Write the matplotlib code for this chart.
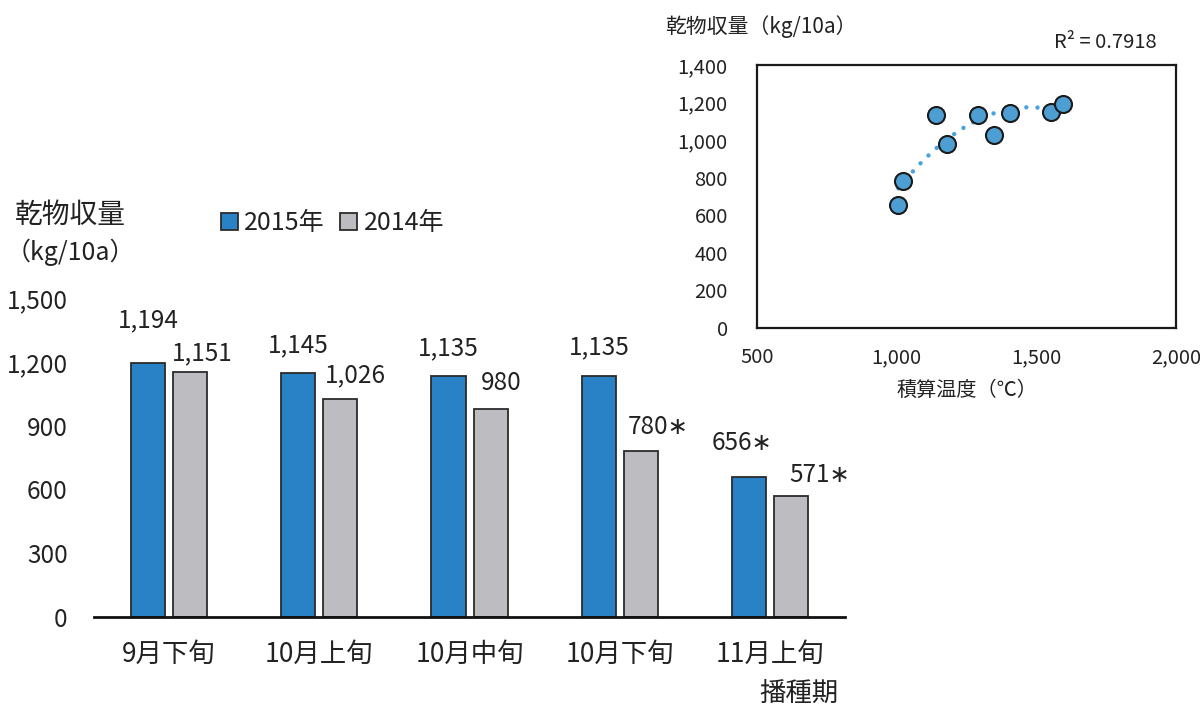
import matplotlib
matplotlib.use("Agg")
import matplotlib.pyplot as plt
from matplotlib.patches import Patch
import numpy as np

plt.rcParams['font.family'] = ['Noto Sans CJK JP', 'DejaVu Sans']

# ---- data ----
categories = ['9月下旬', '10月上旬', '10月中旬', '10月下旬', '11月上旬']
yield_2015 = [1194, 1145, 1135, 1135, 656]
yield_2014 = [1151, 1026, 980, 780, 571]
mark_2015 = ['', '', '', '', '∗']
mark_2014 = ['', '', '', '∗', '∗']
series_names = ['2015年', '2014年']
yticks_bar = [0, 300, 600, 900, 1200, 1500]

temp_sum = [1006, 1022, 1140, 1180, 1291, 1347, 1406, 1553, 1594]
yield_all = [656, 780, 1135, 980, 1135, 1026, 1145, 1151, 1194]
r2_text = 'R² = 0.7918'
xticks_sc = [500, 1000, 1500, 2000]
yticks_sc = [0, 200, 400, 600, 800, 1000, 1200, 1400]

# label offsets in pixels (layout only)
off_2015 = [(0, 43), (0, 28), (0, 27), (0, 28), (-7, 34)]
off_2014 = [(12, 19), (15, 24), (11, 26), (17, 24), (29, 21)]

blue = '#2a82c6'
gray = '#bdbcc1'
edge = '#2b2b2b'
txt = '#222222'

fig = plt.figure(figsize=(12, 7.07), dpi=100)

# ---- bar chart ----
ax = fig.add_axes([0.0783, 0.1273, 0.626, 0.4512])
x = np.arange(len(categories))
w = 0.227
dx = 0.14
b1 = ax.bar(x - dx, yield_2015, w, color=blue, edgecolor=edge, linewidth=1.3)
b2 = ax.bar(x + dx, yield_2014, w, color=gray, edgecolor=edge, linewidth=1.3)
ax.set_xlim(-0.5, len(categories) - 0.5)
ax.set_ylim(0, 1500)
ax.set_yticks(yticks_bar)
ax.set_yticklabels([f'{v:,}' for v in yticks_bar])
ax.set_xticks(x)
ax.set_xticklabels(categories)
for s in ['top', 'right', 'left']:
    ax.spines[s].set_visible(False)
ax.spines['bottom'].set_linewidth(2)
ax.spines['bottom'].set_color('#111111')
ax.tick_params(axis='y', length=0, pad=19, labelsize=17.5, labelcolor=txt)
ax.tick_params(axis='x', length=0, pad=17, labelsize=19, labelcolor=txt)

for i, (v, m, o) in enumerate(zip(yield_2015, mark_2015, off_2015)):
    ax.annotate(f'{v:,}{m}', (x[i] - dx, v), xytext=o, textcoords='offset pixels',
                ha='center', va='center', fontsize=17.5, color=txt)
for i, (v, m, o) in enumerate(zip(yield_2014, mark_2014, off_2014)):
    ax.annotate(f'{v:,}{m}', (x[i] + dx, v), xytext=o, textcoords='offset pixels',
                ha='center', va='center', fontsize=17.5, color=txt)

fig.text(15 / 1200, 1 - 215 / 707, '乾物収量', fontsize=20, color=txt, ha='left', va='center')
fig.text(6 / 1200, 1 - 252 / 707, '（kg/10a）', fontsize=18, color=txt, ha='left', va='center')
fig.text(838 / 1200, 1 - 693 / 707, '播種期', fontsize=19, color=txt, ha='right', va='center')

handles = [Patch(facecolor=blue, edgecolor=edge, linewidth=1.3),
           Patch(facecolor=gray, edgecolor=edge, linewidth=1.3)]
fig.legend(handles, series_names, loc='center left', bbox_to_anchor=(198 / 1200, 1 - 223 / 707),
           ncol=2, frameon=False, fontsize=18, handlelength=0.7, handleheight=0.7,
           handletextpad=0.25, columnspacing=0.6, labelcolor=txt)

# ---- scatter inset ----
ax2 = fig.add_axes([757 / 1200, 1 - 328 / 707, 419 / 1200, 263 / 707])
coef = np.polyfit(temp_sum, yield_all, 2)
xs = np.linspace(min(temp_sum), max(temp_sum), 200)
ax2.plot(xs, np.polyval(coef, xs), color='#4aa3dc', linewidth=3.2,
         linestyle=(0, (0.01, 2.5)), dash_capstyle='round', zorder=2)
ax2.scatter(temp_sum, yield_all, s=150, color='#4d9fd3', edgecolor='#1a1a1a',
            linewidth=1.5, zorder=3)
ax2.set_xlim(500, 2000)
ax2.set_ylim(0, 1400)
ax2.set_xticks(xticks_sc)
ax2.set_xticklabels([f'{v:,}' for v in xticks_sc])
ax2.set_yticks(yticks_sc)
ax2.set_yticklabels([f'{v:,}' for v in yticks_sc])
ax2.tick_params(axis='both', length=0, labelsize=14.5, labelcolor=txt)
ax2.tick_params(axis='y', pad=21)
ax2.tick_params(axis='x', pad=14)
for s in ax2.spines.values():
    s.set_linewidth(1.6)
    s.set_color('#1a1a1a')
ax2.set_xlabel('積算温度（℃）', fontsize=14.5, color=txt, labelpad=8)
fig.text(665 / 1200, 1 - 27 / 707, '乾物収量（kg/10a）', fontsize=15, color=txt, ha='left', va='center')
fig.text(1105 / 1200, 1 - 42 / 707, r2_text, fontsize=14.5, color=txt, ha='center', va='center')

fig.savefig('out.png', dpi=100)
